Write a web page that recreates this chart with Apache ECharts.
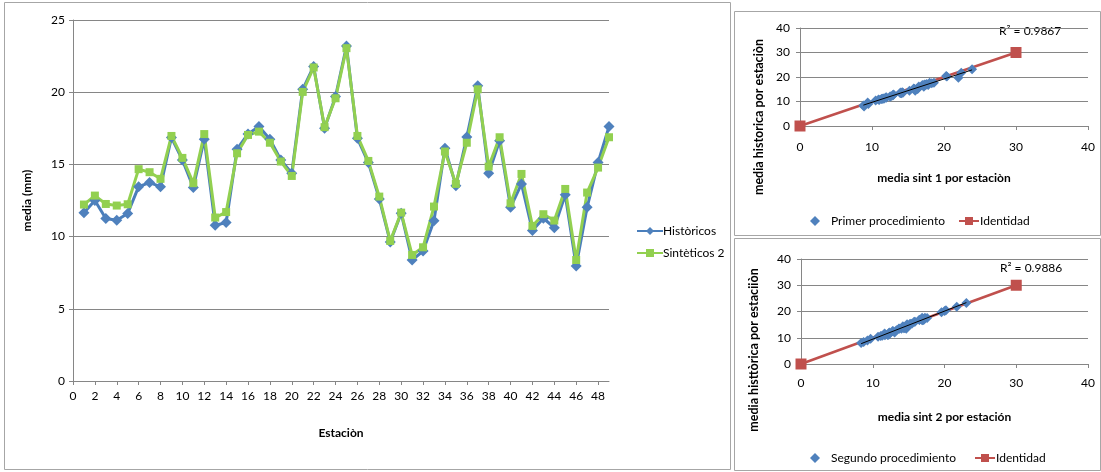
<!DOCTYPE html>
<html>
<head>
<meta charset="utf-8">
<script src="https://cdn.jsdelivr.net/npm/echarts@6/dist/echarts.min.js"></script>
<style>
html,body{margin:0;padding:0;background:#fff;}
#c{width:1101px;height:472px;}
</style>
</head>
<body>
<div id="c"></div>
<script>
// ---- data ----
const estaciones = [1,2,3,4,5,6,7,8,9,10,11,12,13,14,15,16,17,18,19,20,21,22,23,24,25,26,27,28,29,30,31,32,33,34,35,36,37,38,39,40,41,42,43,44,45,46,47,48,49];
const historicos = [11.66,12.5,11.25,11.13,11.6,13.46,13.74,13.46,16.86,15.31,13.4,16.74,10.79,10.97,16.05,17.11,17.62,16.75,15.31,14.39,20.2,21.78,17.5,19.7,23.2,16.81,15.13,12.61,9.63,11.62,8.38,9.0,11.09,16.12,13.53,16.9,20.44,14.39,16.63,12.03,13.65,10.42,11.27,10.62,12.89,7.97,12.03,15.13,17.62];
const sinteticos2 = [12.22,12.84,12.26,12.15,12.24,14.67,14.46,14.0,16.97,15.45,13.7,17.1,11.32,11.7,15.77,17.04,17.27,16.5,15.2,14.2,20.02,21.71,17.58,19.58,23.05,16.97,15.24,12.77,9.7,11.66,8.73,9.26,12.08,15.89,13.65,16.5,20.2,14.85,16.88,12.31,14.34,10.74,11.55,11.11,13.3,8.38,13.05,14.78,16.88];
const sinteticos1 = [12.0,12.9,11.6,11.4,12.0,13.9,14.2,14.0,17.4,15.8,14.1,17.0,10.9,11.3,17.2,17.6,18.0,17.8,16.4,15.2,20.4,22.4,18.3,22.0,23.9,17.5,16.3,12.9,9.4,11.9,8.8,9.5,11.5,16.5,14.3,17.3,20.3,16.0,17.2,12.6,14.0,10.5,11.7,11.0,13.0,8.9,12.5,15.9,18.6];
const identidad = [[0,0],[30,30]];
const r2Labels = ['R\u00B2 = 0.9867','R\u00B2 = 0.9886'];
const scatYTitles = ['media historica por estaciòn','media histtòrica por estaciiòn'];
const mainYTicks = {min:0,max:25,interval:5};
const xTicksMain = {min:0,max:49,interval:2};
const scatTicks = {min:0,max:40,interval:10};

// ---- helpers ----
function linReg(xs, ys){
  const n = xs.length;
  let sx=0,sy=0,sxx=0,sxy=0;
  for(let i=0;i<n;i++){sx+=xs[i];sy+=ys[i];sxx+=xs[i]*xs[i];sxy+=xs[i]*ys[i];}
  const b=(n*sxy-sx*sy)/(n*sxx-sx*sx);
  const a=(sy-b*sx)/n;
  const x0=Math.min(...xs), x1=Math.max(...xs);
  return [[x0,a+b*x0],[x1,a+b*x1]];
}
const pairs1 = sinteticos1.map((x,i)=>[x,historicos[i]]);
const pairs2 = sinteticos2.map((x,i)=>[x,historicos[i]]);
const trend1 = linReg(sinteticos1, historicos);
const trend2 = linReg(sinteticos2, historicos);

const FONT = 'Lato';
const AX = '#868686';
const BLUE = '#4A7EBB';
const BLUE_M = '#4F81BD';
const GREEN = '#92D050';
const RED = '#C0504D';
const txt = {fontFamily:FONT,color:'#000',fontSize:12};

function valAxis(gi, t, extra){
  return Object.assign({
    type:'value', gridIndex:gi, min:t.min, max:t.max, interval:t.interval,
    axisLine:{show:true,lineStyle:{color:AX,width:1}},
    axisTick:{show:true,length:4,lineStyle:{color:AX}},
    axisLabel:Object.assign({},txt,{margin:8}),
    splitLine:{show:false},
    nameTextStyle:Object.assign({},txt,{fontWeight:'bold'}),
    nameLocation:'middle'
  }, extra||{});
}

const chart = echarts.init(document.getElementById('c'), null, {renderer:'canvas'});
const option = {
  backgroundColor:'#fff',
  animation:false,
  textStyle:{fontFamily:FONT},
  grid:[
    {left:73, top:20, width:536, height:361},
    {left:800, top:28, width:288, height:98},
    {left:801, top:259, width:287, height:105}
  ],
  xAxis:[
    valAxis(0, xTicksMain, {name:'Estaciòn', nameGap:46, axisLabel:Object.assign({},txt,{margin:9,showMaxLabel:false})}),
    valAxis(1, scatTicks, {name:'media sint 1 por estaciòn', nameGap:46, axisLabel:Object.assign({},txt,{margin:15})}),
    valAxis(2, scatTicks, {name:'media sint 2 por estación', nameGap:47, axisLabel:Object.assign({},txt,{margin:13})})
  ],
  yAxis:[
    valAxis(0, mainYTicks, {name:'media (mm)', nameGap:40, splitLine:{show:true,lineStyle:{color:AX,width:1}}}),
    valAxis(1, scatTicks, {name:'', splitLine:{show:true,lineStyle:{color:AX,width:1}}, axisLabel:Object.assign({},txt,{margin:10})}),
    valAxis(2, scatTicks, {name:'', splitLine:{show:true,lineStyle:{color:AX,width:1}}, axisLabel:Object.assign({},txt,{margin:10})})
  ],
  legend:[
    {orient:'vertical', left:631, top:220, itemGap:10, itemWidth:26, itemHeight:10,
     data:['Històricos','Sintèticos 2'], textStyle:Object.assign({},txt,{padding:[0,0,0,-5]})},
    {orient:'horizontal', left:805, top:210, itemWidth:10, itemHeight:10,
     data:[{name:'Primer procedimiento',icon:'diamond'}], textStyle:Object.assign({},txt,{padding:[0,0,0,6]})},
    {orient:'horizontal', left:953, top:210, itemWidth:20, itemHeight:10,
     data:['Identidad'], textStyle:Object.assign({},txt,{padding:[0,0,0,-4]})},
    {orient:'horizontal', left:805, top:447, itemWidth:10, itemHeight:10,
     data:[{name:'Segundo procedimiento',icon:'diamond'}], textStyle:Object.assign({},txt,{padding:[0,0,0,6]})},
    {orient:'horizontal', left:969, top:447, itemWidth:20, itemHeight:10,
     data:['Identidad '], textStyle:Object.assign({},txt,{padding:[0,0,0,-4]})}
  ],
  series:[
    {name:'Històricos', type:'line', xAxisIndex:0, yAxisIndex:0,
     data:estaciones.map((e,i)=>[e,historicos[i]]),
     symbol:'diamond', symbolSize:11, showAllSymbol:true,
     lineStyle:{color:BLUE,width:3}, itemStyle:{color:BLUE_M}},
    {name:'Sintèticos 2', type:'line', xAxisIndex:0, yAxisIndex:0,
     data:estaciones.map((e,i)=>[e,sinteticos2[i]]),
     symbol:'rect', symbolSize:8, showAllSymbol:true,
     lineStyle:{color:GREEN,width:3}, itemStyle:{color:GREEN}},

    {name:'Identidad', type:'line', xAxisIndex:1, yAxisIndex:1, data:identidad,
     symbol:'rect', symbolSize:11, lineStyle:{color:RED,width:2.5}, itemStyle:{color:RED}, z:1},
    {name:'Primer procedimiento', type:'scatter', xAxisIndex:1, yAxisIndex:1, data:pairs1,
     symbol:'diamond', symbolSize:10, itemStyle:{color:BLUE_M,opacity:1}, z:2},
    {name:'trend1', type:'line', xAxisIndex:1, yAxisIndex:1, data:trend1,
     symbol:'none', lineStyle:{color:'#000',width:1}, z:3, silent:true},

    {name:'Identidad ', type:'line', xAxisIndex:2, yAxisIndex:2, data:identidad,
     symbol:'rect', symbolSize:11, lineStyle:{color:RED,width:2.5}, itemStyle:{color:RED}, z:1},
    {name:'Segundo procedimiento', type:'scatter', xAxisIndex:2, yAxisIndex:2, data:pairs2,
     symbol:'diamond', symbolSize:10, itemStyle:{color:BLUE_M,opacity:1}, z:2},
    {name:'trend2', type:'line', xAxisIndex:2, yAxisIndex:2, data:trend2,
     symbol:'none', lineStyle:{color:'#000',width:1}, z:3, silent:true}
  ],
  graphic:[
    {type:'rect', shape:{x:4.5,y:2.5,width:726,height:467}, style:{fill:null,stroke:'#a6a6a6',lineWidth:1}, z:-1},
    {type:'rect', shape:{x:734.5,y:11.5,width:366,height:224}, style:{fill:null,stroke:'#a6a6a6',lineWidth:1}, z:-1},
    {type:'rect', shape:{x:734.5,y:238.5,width:366,height:232}, style:{fill:null,stroke:'#a6a6a6',lineWidth:1}, z:-1},
    {type:'text', left:999, top:25, style:{text:r2Labels[0], font:'12px '+FONT, fill:'#000'}},
    {type:'text', left:1000, top:262, style:{text:r2Labels[1], font:'12px '+FONT, fill:'#000'}},
    {type:'text', x:759, y:117, rotation:Math.PI/2,
     style:{text:scatYTitles[0], font:'bold 12.5px '+FONT, fill:'#000', align:'center', verticalAlign:'middle'}},
    {type:'text', x:754, y:350, rotation:Math.PI/2,
     style:{text:scatYTitles[1], font:'bold 12.5px '+FONT, fill:'#000', align:'center', verticalAlign:'middle'}}
  ]
};
chart.setOption(option);
</script>
</body>
</html>
